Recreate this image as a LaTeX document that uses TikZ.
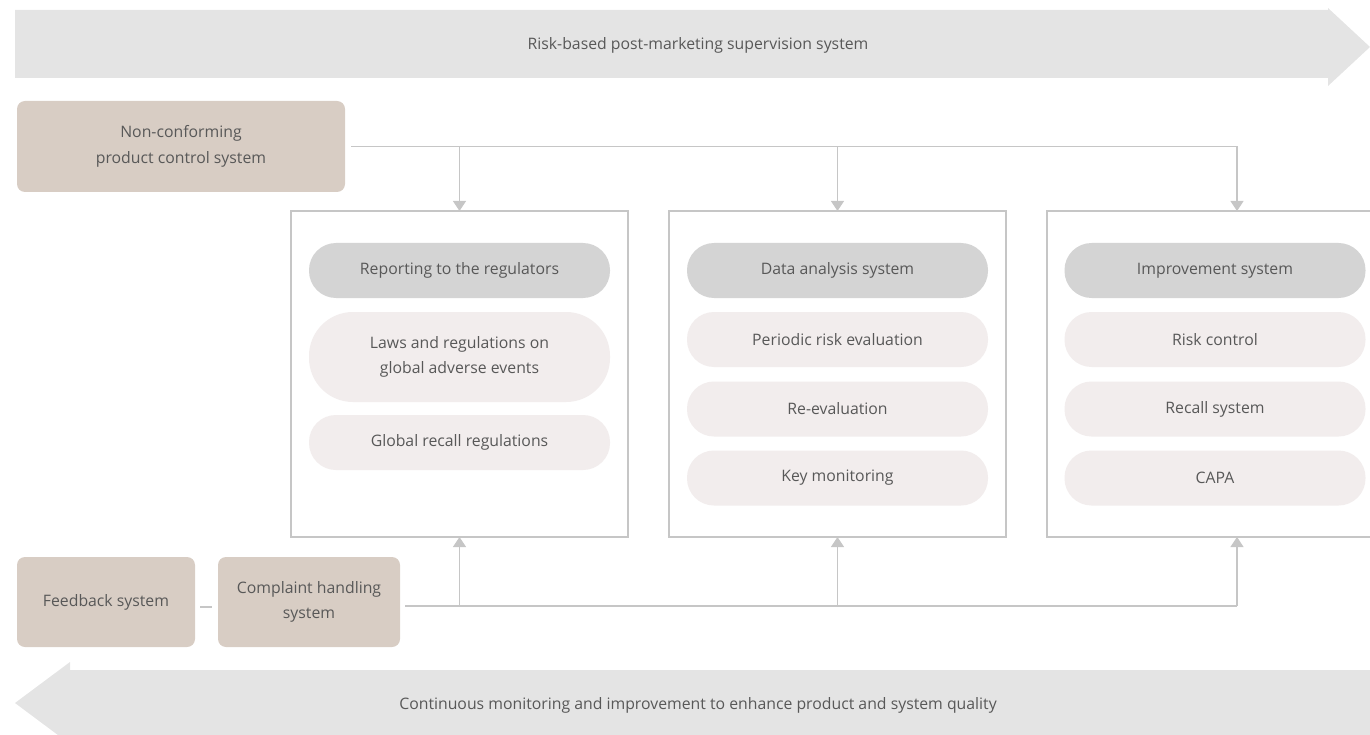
\documentclass[tikz,border=0pt]{standalone}
\usepackage{fontspec}
\setmainfont{Open Sans}
\usetikzlibrary{arrows.meta}
\definecolor{bandgray}{HTML}{E4E4E4}
\definecolor{boxtan}{HTML}{D8CDC4}
\definecolor{headgray}{HTML}{D4D4D4}
\definecolor{subpink}{HTML}{F2EDED}
\definecolor{linegray}{HTML}{C6C6C6}
\definecolor{txtgray}{HTML}{585858}
\tikzset{
  base/.style={inner sep=0pt, outer sep=0pt, align=center, text=txtgray,
    font=\fontsize{15.8}{25.5}\selectfont},
  tanbox/.style={base, fill=boxtan, rounded corners=8pt},
  frame/.style={base, draw=linegray, line width=1.2pt, fill=white},
  headpill/.style={base, fill=headgray, rounded corners=27pt},
  subpill/.style={base, fill=subpink, rounded corners=27pt},
  conn/.style={draw=linegray, line width=1.2pt},
  arr/.style={conn, -{Triangle[width=13pt,length=10pt]}},
}
\begin{document}
\begin{tikzpicture}[x=1pt,y=-1pt]
\useasboundingbox (0,0) rectangle (1370,735);
% top band arrow
\fill[bandgray] (15,10) -- (1328,10) -- (1328,8) -- (1370,47) -- (1328,86) -- (1328,78) -- (15,78) -- cycle;
\node[base] (toptxt) at (698,45) {Risk-based post-marketing supervision system};
% bottom band arrow
\fill[bandgray] (1380,670) -- (70,670) -- (70,662) -- (15,703) -- (70,744) -- (70,738) -- (1380,738) -- cycle;
\node[base] (bottxt) at (698,705) {Continuous monitoring and improvement to enhance product and system quality};
% tan boxes
\node[tanbox, minimum width=328pt, minimum height=91pt] (nc) at (181,146.5) {Non-conforming\\product control system};
\node[tanbox, minimum width=178pt, minimum height=90pt] (fb) at (106,602) {Feedback system};
\node[tanbox, minimum width=182pt, minimum height=90pt] (ch) at (309,602) {Complaint handling\\system};
% frames
\node[frame, minimum width=337pt, minimum height=326pt] (b1) at (459.5,374) {};
\node[frame, minimum width=337pt, minimum height=326pt] (b2) at (837.5,374) {};
\node[frame, minimum width=380pt, minimum height=326pt] (b3) at (1237,374) {};
% box 1 pills
\node[headpill, minimum width=301pt, minimum height=55pt] (p11) at (459.5,270.5) {Reporting to the regulators};
\node[subpill, rounded corners=44pt, minimum width=301pt, minimum height=90pt] (p12) at (459.5,357) {Laws and regulations on\\global adverse events};
\node[subpill, minimum width=301pt, minimum height=55pt] (p13) at (459.5,442.5) {Global recall regulations};
% box 2 pills
\node[headpill, minimum width=301pt, minimum height=55pt] (p21) at (837.5,270.5) {Data analysis system};
\node[subpill, minimum width=301pt, minimum height=55pt] (p22) at (837.5,339.5) {Periodic risk evaluation};
\node[subpill, minimum width=301pt, minimum height=55pt] (p23) at (837.5,409) {Re-evaluation};
\node[subpill, minimum width=301pt, minimum height=55pt] (p24) at (837.5,478) {Key monitoring};
% box 3 pills
\node[headpill, minimum width=301pt, minimum height=55pt] (p31) at (1215,270.5) {Improvement system};
\node[subpill, minimum width=301pt, minimum height=55pt] (p32) at (1215,339.5) {Risk control};
\node[subpill, minimum width=301pt, minimum height=55pt] (p33) at (1215,409) {Recall system};
\node[subpill, minimum width=301pt, minimum height=55pt] (p34) at (1215,478) {CAPA};
% top connectors
\coordinate (ts) at ([xshift=6pt]nc.east);
\coordinate (te) at (b3.north |- ts);
\draw[conn] (ts) -- (te);
\draw[arr] (b1.north |- ts) -- (b1.north);
\draw[arr] (b2.north |- ts) -- (b2.north);
\draw[arr] (te) -- (b3.north);
% bottom connectors
\coordinate (bs) at ([xshift=5pt,yshift=-4pt]ch.east);
\coordinate (be) at (b3.south |- bs);
\draw[conn] (bs) -- (be);
\draw[arr] (b1.south |- bs) -- (b1.south);
\draw[arr] (b2.south |- bs) -- (b2.south);
\draw[arr] (be) -- (b3.south);
\draw[conn, shorten <=5pt, shorten >=6pt] ([yshift=-5pt]fb.east) -- ([yshift=-5pt]ch.west);
\end{tikzpicture}
\end{document}
